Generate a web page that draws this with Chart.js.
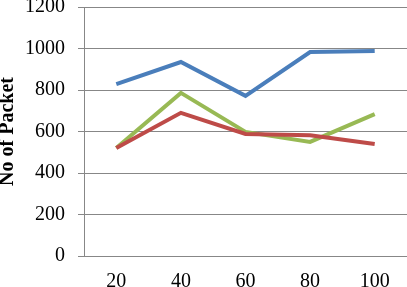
<!DOCTYPE html>
<html>
<head>
<meta charset="utf-8">
<script src="https://cdn.jsdelivr.net/npm/chart.js@4"></script>
<style>
  html, body { margin: 0; padding: 0; background: #fff; }
  #wrap { width: 407px; height: 287px; }
</style>
</head>
<body>
<div id="wrap"><canvas id="chart"></canvas></div>
<script>
const categories = ['20', '40', '60', '80', '100'];
const blueSeries = [828, 935, 772, 983, 988];
const redSeries = [520, 690, 588, 582, 540];
const greenSeries = [520, 786, 598, 550, 684];
const yTicks = [0, 200, 400, 600, 800, 1000, 1200];

const ctx = document.getElementById('chart').getContext('2d');
const gridGray = '#878787';

new Chart(ctx, {
  type: 'line',
  data: {
    labels: categories,
    datasets: [
      { data: blueSeries, borderColor: '#4a7ebb' },
      { data: redSeries, borderColor: '#be4b48' },
      { data: greenSeries, borderColor: '#98b954' },
    ].map((d) => ({ ...d, borderWidth: 4, pointRadius: 0, tension: 0, fill: false })),
  },
  options: {
    responsive: true,
    maintainAspectRatio: false,
    animation: false,
    layout: { padding: { top: 7, right: 0, bottom: 0, left: 0 } },
    plugins: {
      legend: { display: false },
      tooltip: { enabled: false },
    },
    scales: {
      x: {
        offset: true,
        grid: { display: false, drawTicks: false },
        border: { display: true, color: gridGray, width: 1 },
        ticks: {
          color: '#000',
          padding: 14,
          maxRotation: 0,
          font: { family: 'Liberation Serif', size: 20 },
        },
        afterFit: (scale) => {
          scale.height = 31;
          scale.paddingLeft = 0;
          scale.paddingRight = 0;
        },
      },
      y: {
        min: 0,
        max: 1200,
        afterBuildTicks: (scale) => {
          scale.ticks = yTicks.map((v) => ({ value: v }));
        },
        grid: { color: gridGray, lineWidth: 1, tickLength: 6 },
        border: { display: true, color: gridGray, width: 1 },
        ticks: {
          color: '#000',
          padding: 13,
          font: { family: 'Liberation Serif', size: 20 },
          callback: (v) => String(v),
        },
        title: {
          display: true,
          text: 'No of Packet',
          color: '#000',
          padding: { top: -2, bottom: 0 },
          font: { family: 'Liberation Serif', size: 20, weight: 'bold', lineHeight: 1 },
        },
        afterFit: (scale) => {
          scale.width = 84;
          scale.paddingTop = 0;
          scale.paddingBottom = 0;
        },
      },
    },
  },
});
</script>
</body>
</html>
